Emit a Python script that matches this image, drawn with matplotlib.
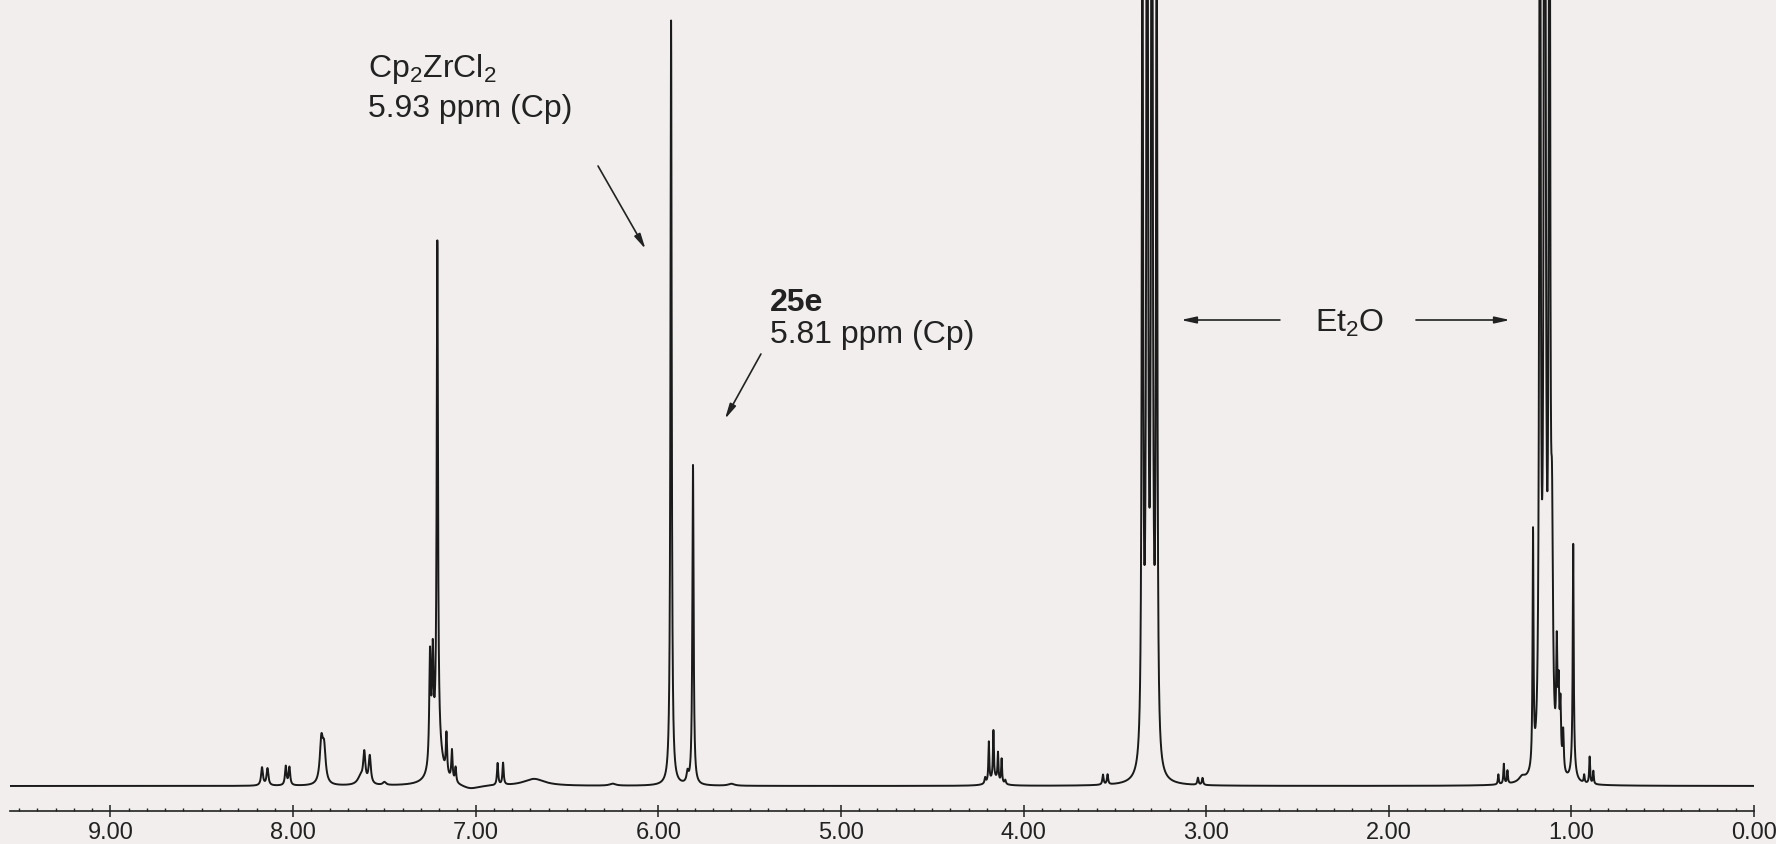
import numpy as np
import matplotlib.pyplot as plt
from matplotlib.ticker import MultipleLocator, FormatStrFormatter

plt.rcParams['font.family'] = ['Liberation Sans', 'DejaVu Sans']
plt.rcParams['mathtext.fontset'] = 'custom'
plt.rcParams['mathtext.rm'] = 'Liberation Sans'
plt.rcParams['mathtext.default'] = 'regular'

# peak list: shift (ppm), height (px above baseline), half width (ppm)
peak_ppm = [8.17, 8.14, 8.04, 8.02, 7.845, 7.83, 7.63, 7.61, 7.58, 7.50,
            7.25, 7.235, 7.21, 7.21, 7.16, 7.13, 7.11, 7.03, 6.88, 6.85,
            6.68, 6.25, 5.93, 5.84, 5.81, 5.60,
            4.21, 4.19, 4.165, 4.14, 4.12, 4.10, 4.16,
            3.565, 3.54, 3.349, 3.323, 3.297, 3.271, 3.045, 3.02,
            1.40, 1.37, 1.35, 1.27, 1.21, 1.172, 1.146, 1.12, 1.106,
            1.08, 1.07, 1.06, 1.045, 0.99, 0.99, 0.93, 0.90, 0.88]
peak_height = [18, 17, 19, 18, 42, 33, 8, 30, 28, 3,
               110, 100, 500, 40, 40, 30, 15, -4, 22, 22,
               7, 2, 765, 10, 320, 2,
               6, 40, 48, 28, 24, 4, 7,
               10, 10, 900, 1500, 1500, 900, 7, 7,
               10, 20, 13, 5, 234, 1200, 2000, 1200, 200,
               110, 70, 60, 40, 216, 22, 8, 27, 13]
peak_width = [0.006, 0.006, 0.005, 0.005, 0.01, 0.01, 0.02, 0.007, 0.007, 0.01,
              0.005, 0.005, 0.004, 0.03, 0.004, 0.004, 0.004, 0.06, 0.004, 0.004,
              0.07, 0.02, 0.004, 0.006, 0.004, 0.02,
              0.004, 0.003, 0.003, 0.003, 0.003, 0.004, 0.03,
              0.004, 0.004, 0.004, 0.004, 0.004, 0.004, 0.004, 0.004,
              0.003, 0.003, 0.003, 0.02, 0.003, 0.004, 0.004, 0.004, 0.006,
              0.004, 0.004, 0.004, 0.004, 0.003, 0.012, 0.003, 0.003, 0.003]

tick_fmt = '%.2f'

ppm = np.linspace(9.55, 0.0, 40000)
spec = np.zeros_like(ppm)
for p, h, w in zip(peak_ppm, peak_height, peak_width):
    spec += h * w ** 2 / ((ppm - p) ** 2 + w ** 2)

fig = plt.figure(figsize=(17.76, 8.45), dpi=100, facecolor='#f1eeed')
ax = fig.add_axes([10 / 1776, 1 - 812 / 845, 1744 / 1776, 812 / 845])
ax.set_facecolor('none')
ax.plot(ppm, spec, color='#1a1a1a', lw=1.4)
ax.set_xlim(9.55, 0.0)
ax.set_ylim(-25, 787)

for s in ['top', 'left', 'right']:
    ax.spines[s].set_visible(False)
ax.spines['bottom'].set_color('#222222')
ax.spines['bottom'].set_linewidth(1.2)
ax.yaxis.set_visible(False)
ax.xaxis.set_major_locator(MultipleLocator(1.0))
ax.xaxis.set_minor_locator(MultipleLocator(0.1))
ax.xaxis.set_major_formatter(FormatStrFormatter(tick_fmt))
ax.tick_params(axis='x', which='major', direction='inout', length=8, width=1.1,
               pad=3, labelsize=17, colors='#222222')
ax.tick_params(axis='x', which='minor', direction='in', length=2.5, width=1,
               colors='#222222')

txt = dict(fontsize=23, color='#222222', va='baseline')
arr = dict(arrowstyle='-|>,head_length=0.9,head_width=0.2', color='#222222',
           lw=1.2, shrinkA=0, shrinkB=0)

ax.text(7.59, 710, 'Cp$_2$ZrCl$_2$', **txt)
ax.text(7.59, 670, '5.93 ppm (Cp)', **txt)
ax.annotate('', xy=(6.07, 537), xytext=(6.33, 620), arrowprops=arr)

ax.text(5.389, 476, '25e', fontweight='bold', **txt)
ax.text(5.389, 444, '5.81 ppm (Cp)', **txt)
ax.annotate('', xy=(5.635, 367), xytext=(5.438, 432), arrowprops=arr)

ax.text(2.212, 455, 'Et$_2$O', ha='center', **txt)
ax.annotate('', xy=(3.138, 466), xytext=(2.596, 466), arrowprops=arr)
ax.annotate('', xy=(1.336, 466), xytext=(1.851, 466), arrowprops=arr)

fig.savefig('out.png', dpi=100, facecolor=fig.get_facecolor())
